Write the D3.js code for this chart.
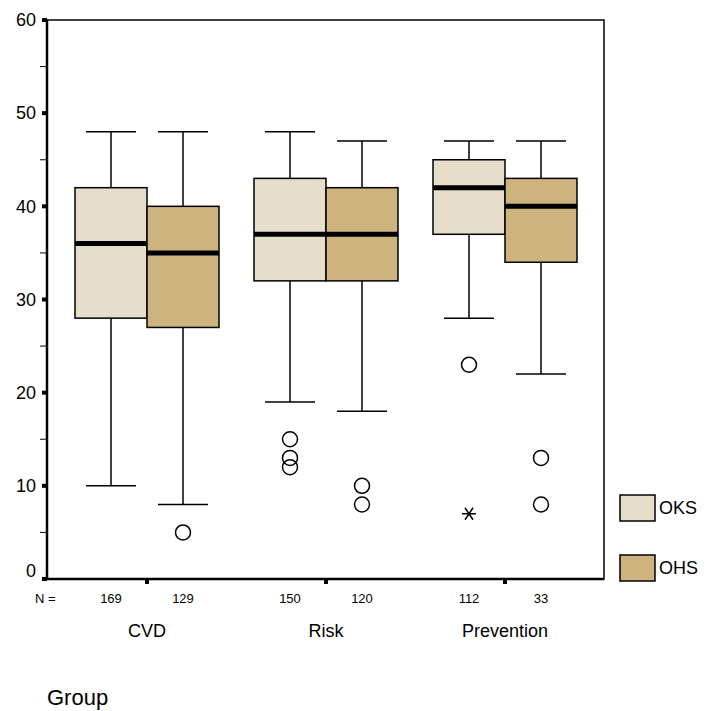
<!DOCTYPE html>
<html>
<head>
<meta charset="utf-8">
<script src="https://cdn.jsdelivr.net/npm/d3@7"></script>
<style>
  body { margin: 0; background: #fff; }
  text { font-family: Arial, "Liberation Sans", sans-serif; fill: #000; }
</style>
</head>
<body>
<script>
// data
var groups = ["CVD", "Risk", "Prevention"];
var series = ["OKS", "OHS"];
var seriesColors = ["#e6ddcb", "#cdb47f"];
var counts = [[169, 129], [150, 120], [112, 33]];
// [whiskerLow, q1, median, q3, whiskerHigh]
var oksStats = [[10, 28, 36, 42, 48], [19, 32, 37, 43, 48], [28, 37, 42, 45, 47]];
var ohsStats = [[8, 27, 35, 40, 48], [18, 32, 37, 42, 47], [22, 34, 40, 43, 47]];
var oksOutliers = [[], [15, 13, 12], [23]];
var ohsOutliers = [[5], [10, 8], [13, 8]];
var oksExtremes = [[], [], [7]];
var ohsExtremes = [[], [], []];
var yTicks = [0, 10, 20, 30, 40, 50, 60];
var yMinorTicks = [5, 15, 25, 35, 45, 55];

var width = 709, height = 711;
var plotLeft = 47, plotRight = 604, plotTop = 20, plotBottom = 579;

var svg = d3.select("body").append("svg")
    .attr("width", width)
    .attr("height", height);

var y = d3.scaleLinear().domain([0, 60]).range([plotBottom, plotTop]);
var xGroup = d3.scaleBand().domain(groups).range([57.5, 594.5]);
var xSeries = d3.scaleBand().domain(series).range([-72, 72]);
var color = d3.scaleOrdinal().domain(series).range(seriesColors);

//frame
svg.append("rect")
    .attr("x", plotLeft).attr("y", plotTop)
    .attr("width", plotRight - plotLeft).attr("height", plotBottom - plotTop)
    .attr("fill", "none").attr("stroke", "#000").attr("stroke-width", 1.5);
svg.append("line")
    .attr("x1", plotLeft).attr("x2", plotLeft).attr("y1", plotTop).attr("y2", plotBottom)
    .attr("stroke", "#000").attr("stroke-width", 2.5);
svg.append("line")
    .attr("x1", plotLeft).attr("x2", plotRight).attr("y1", plotBottom).attr("y2", plotBottom)
    .attr("stroke", "#000").attr("stroke-width", 2.5);

//y axis ticks
svg.selectAll(".minor").data(yMinorTicks).enter().append("line")
    .attr("x1", plotLeft - 7).attr("x2", plotLeft)
    .attr("y1", function(d){ return y(d); }).attr("y2", function(d){ return y(d); })
    .attr("stroke", "#000").attr("stroke-width", 1);
svg.selectAll(".major").data(yTicks).enter().append("rect")
    .attr("x", plotLeft - 5).attr("y", function(d){ return y(d) - 2; })
    .attr("width", 5).attr("height", 4).attr("fill", "#000");
svg.selectAll(".ylab").data(yTicks).enter().append("text")
    .attr("x", 36).attr("y", function(d){ return y(d) - (d === 0 ? 8 : 0); })
    .attr("dy", "0.35em")
    .attr("text-anchor", "end")
    .style("font-size", "18px")
    .text(function(d){ return d; });

//group ticks on x axis
svg.selectAll(".gtick").data(groups).enter().append("rect")
    .attr("x", function(d){ return xGroup(d) + xGroup.bandwidth() / 2 - 2; })
    .attr("y", plotBottom).attr("width", 4).attr("height", 5).attr("fill", "#000");

//boxes
var boxes = [];
groups.forEach(function(g, i){
    [oksStats, ohsStats].forEach(function(stats, j){
        boxes.push({
            group: g, series: series[j], s: stats[i], n: counts[i][j],
            outliers: [oksOutliers, ohsOutliers][j][i],
            extremes: [oksExtremes, ohsExtremes][j][i]
        });
    });
});
function cx(d){ return xGroup(d.group) + xGroup.bandwidth() / 2 + xSeries(d.series) + xSeries.bandwidth() / 2; }
var capHalf = 25;

var box = svg.selectAll(".box").data(boxes).enter().append("g").attr("class", "box");
box.append("line")
    .attr("x1", cx).attr("x2", cx)
    .attr("y1", function(d){ return y(d.s[4]); }).attr("y2", function(d){ return y(d.s[0]); })
    .attr("stroke", "#000").attr("stroke-width", 1.5);
box.append("line")
    .attr("x1", function(d){ return cx(d) - capHalf; }).attr("x2", function(d){ return cx(d) + capHalf; })
    .attr("y1", function(d){ return y(d.s[4]); }).attr("y2", function(d){ return y(d.s[4]); })
    .attr("stroke", "#000").attr("stroke-width", 1.5);
box.append("line")
    .attr("x1", function(d){ return cx(d) - capHalf; }).attr("x2", function(d){ return cx(d) + capHalf; })
    .attr("y1", function(d){ return y(d.s[0]); }).attr("y2", function(d){ return y(d.s[0]); })
    .attr("stroke", "#000").attr("stroke-width", 1.5);
box.append("rect")
    .attr("x", function(d){ return cx(d) - xSeries.bandwidth() / 2; })
    .attr("y", function(d){ return y(d.s[3]); })
    .attr("width", xSeries.bandwidth())
    .attr("height", function(d){ return y(d.s[1]) - y(d.s[3]); })
    .attr("fill", function(d){ return color(d.series); })
    .attr("stroke", "#000").attr("stroke-width", 1.5);
box.append("line")
    .attr("x1", function(d){ return cx(d) - xSeries.bandwidth() / 2; })
    .attr("x2", function(d){ return cx(d) + xSeries.bandwidth() / 2; })
    .attr("y1", function(d){ return y(d.s[2]); }).attr("y2", function(d){ return y(d.s[2]); })
    .attr("stroke", "#000").attr("stroke-width", 5);
box.selectAll(".out").data(function(d){ return d.outliers.map(function(v){ return {v: v, x: cx(d)}; }); })
    .enter().append("circle")
    .attr("cx", function(o){ return o.x; }).attr("cy", function(o){ return y(o.v); })
    .attr("r", 7.5).attr("fill", "none").attr("stroke", "#000").attr("stroke-width", 1.5);
box.selectAll(".ext").data(function(d){ return d.extremes.map(function(v){ return {v: v, x: cx(d)}; }); })
    .enter().append("path")
    .attr("transform", function(o){ return "translate(" + o.x + "," + y(o.v) + ")"; })
    .attr("d", "M-7,0H7M-4,-6L4,6M4,-6L-4,6")
    .attr("stroke", "#000").attr("stroke-width", 1.5).attr("fill", "none");
box.append("text")
    .attr("x", cx).attr("y", 603)
    .attr("text-anchor", "middle")
    .style("font-size", "13px")
    .text(function(d){ return d.n; });

svg.append("text").attr("x", 35).attr("y", 603).style("font-size", "13px").text("N =");

//group labels
svg.selectAll(".glab").data(groups).enter().append("text")
    .attr("x", function(d){ return xGroup(d) + xGroup.bandwidth() / 2; })
    .attr("y", 637)
    .attr("text-anchor", "middle")
    .style("font-size", "18px")
    .text(function(d){ return d; });

svg.append("text").attr("x", 47).attr("y", 705).style("font-size", "22px").text("Group");

//legend
var legend = svg.selectAll(".legend").data(series).enter().append("g")
    .attr("transform", function(d, i){ return "translate(620," + (495 + i * 60) + ")"; });
legend.append("rect")
    .attr("width", 35).attr("height", 26)
    .attr("fill", function(d){ return color(d); })
    .attr("stroke", "#000").attr("stroke-width", 1.5);
legend.append("text")
    .attr("x", 39).attr("y", 13).attr("dy", "0.35em")
    .style("font-size", "18px")
    .text(function(d){ return d; });
</script>
</body>
</html>
